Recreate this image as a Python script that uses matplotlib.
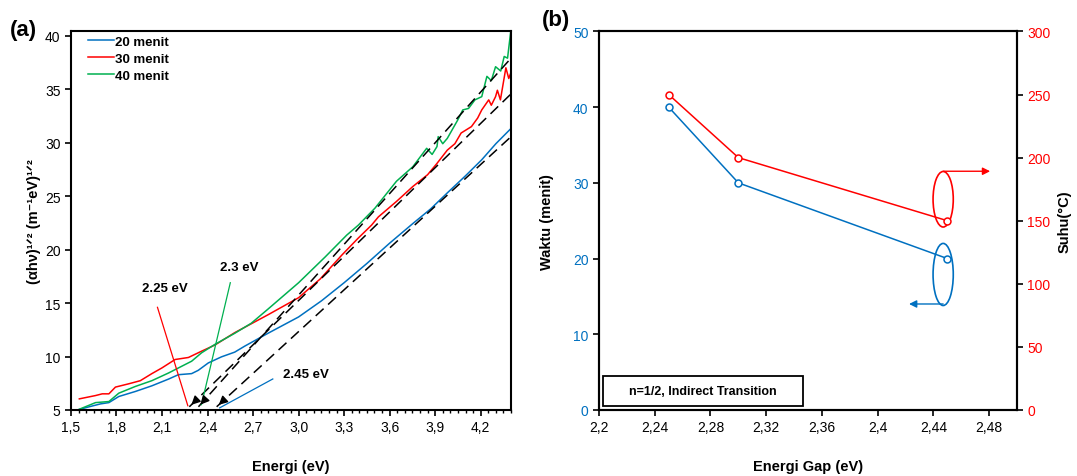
import numpy as np
import matplotlib.pyplot as plt
from matplotlib.patches import Ellipse, Rectangle

plt.rcParams['font.family'] = ['Liberation Sans', 'DejaVu Sans']
plt.rcParams['font.size'] = 10
plt.rcParams['xtick.direction'] = 'out'
plt.rcParams['ytick.direction'] = 'out'

BLUE = '#0070C0'
RED = '#FF0000'
GREEN = '#00B050'

# ---- panel (a): Tauc plot ----
x20 = [1.555, 1.62, 1.695, 1.75, 1.815, 1.924, 2.033, 2.143, 2.208, 2.295, 2.339, 2.405,
       2.492, 2.579, 2.645, 2.798, 3.0, 3.15, 3.3, 3.45, 3.6, 3.75, 3.87, 3.98, 4.1, 4.207,
       4.3, 4.398]
y20 = [5.05, 5.3, 5.57, 5.69, 6.26, 6.73, 7.26, 7.89, 8.30, 8.40, 8.71, 9.40,
       9.97, 10.41, 10.97, 12.17, 13.7, 15.2, 16.9, 18.7, 20.6, 22.4, 23.8, 25.3, 26.9, 28.4,
       29.9, 31.3]

x30 = [1.555, 1.662, 1.706, 1.75, 1.793, 1.881, 1.957, 2.033, 2.099, 2.186, 2.274, 2.361,
       2.448, 2.579, 2.798, 3.0, 3.143, 3.284, 3.39, 3.481, 3.526, 3.645, 3.753, 3.85, 3.912,
       3.98, 4.03, 4.071, 4.139, 4.18, 4.207, 4.253, 4.27, 4.298, 4.31, 4.33, 4.366, 4.385,
       4.398]
y30 = [6.04, 6.35, 6.51, 6.51, 7.14, 7.45, 7.74, 8.40, 8.93, 9.72, 9.91, 10.50,
       11.07, 12.23, 13.90, 15.5, 17.26, 19.47, 21.03, 22.29, 23.06, 24.5, 25.9, 27.0, 28.06,
       29.3, 29.9, 30.9, 31.5, 32.3, 33.06, 34.0, 33.5, 34.3, 34.9, 34.0, 37.0, 36.0,
       36.5]

x40 = [1.555, 1.662, 1.75, 1.815, 1.924, 2.033, 2.143, 2.230, 2.295, 2.361, 2.448, 2.579,
       2.688, 2.798, 3.0, 3.175, 3.317, 3.394, 3.503, 3.645, 3.753, 3.844, 3.88, 3.912, 3.92,
       3.95, 3.98, 4.048, 4.082, 4.12, 4.162, 4.207, 4.241, 4.27, 4.298, 4.332, 4.355, 4.377,
       4.398]
y40 = [5.07, 5.69, 5.79, 6.57, 7.20, 7.74, 8.46, 9.09, 9.56, 10.35, 11.13, 12.17,
       13.11, 14.43, 16.9, 19.31, 21.35, 22.29, 23.87, 26.39, 27.75, 29.47, 28.9, 29.63, 30.56,
       29.9, 30.4, 32.1, 33.06, 33.2, 34.0, 34.3, 36.2, 35.8, 37.1, 36.7, 38.06, 37.9,
       40.4]

# tangent lines: (x at foot, y at foot, x at end, y at end)
fit_30 = (2.28, 5.3, 4.40, 34.56)
fit_40 = (2.34, 5.3, 4.40, 37.9)
fit_20 = (2.46, 5.3, 4.40, 30.56)

# ---- panel (b) ----
gap = [2.25, 2.30, 2.45]
waktu = [40, 30, 20]
suhu = [250, 200, 150]

fig = plt.figure(figsize=(10.77, 4.77), dpi=100)

# ================= (a) =================
ax = fig.add_axes([0.0659, 0.1384, 0.4086, 0.7936])
ax.plot(x20, y20, c=BLUE, lw=1.1, label='20 menit')
ax.plot(x30, y30, c=RED, lw=1.1, label='30 menit')
ax.plot(x40, y40, c=GREEN, lw=1.1, label='40 menit')

for fx0, fy0, fx1, fy1 in [fit_30, fit_40, fit_20]:
    ax.plot([fx0, fx1], [fy0, fy1], c='black', lw=1.1, ls=(0, (7, 4)))
    ax.annotate('', xy=(fx0, fy0), xytext=(fx0 + 0.05, fy0 + 0.05 * (fy1 - fy0) / (fx1 - fx0)),
                arrowprops=dict(arrowstyle='-|>', color='black', lw=1, mutation_scale=13))

# pointer lines and labels
ax.plot([2.07, 2.27], [14.6, 5.4], c=RED, lw=0.9)
ax.plot([2.55, 2.36], [16.9, 5.5], c=GREEN, lw=0.9)
ax.plot([2.83, 2.48], [7.9, 5.2], c=BLUE, lw=0.9)
ax.text(2.12, 16.4, '2.25 eV', ha='center', va='center', fontweight='bold', fontsize=9.5)
ax.text(2.61, 18.4, '2.3 eV', ha='center', va='center', fontweight='bold', fontsize=9.5)
ax.text(3.05, 8.4, '2.45 eV', ha='center', va='center', fontweight='bold', fontsize=9.5)

ax.set_xlim(1.5, 4.4)
ax.set_ylim(5, 40.4)
ax.set_xticks(np.arange(1.5, 4.3, 0.3))
ax.set_xticklabels(['1,5', '1,8', '2,1', '2,4', '2,7', '3,0', '3,3', '3,6', '3,9', '4,2'])
ax.set_xticks(np.arange(1.5, 4.4, 0.05), minor=True)
ax.set_yticks(np.arange(5, 41, 5))
ax.tick_params(which='major', length=4, width=1.2)
ax.tick_params(axis='x', which='minor', length=2.5, width=1)
for s in ax.spines.values():
    s.set_linewidth(1.5)
ax.set_xlabel('Energi (eV)', fontweight='bold', fontsize=10.5, labelpad=18)
ax.set_ylabel('(αhν)¹ᐟ² (m⁻¹eV)¹ᐟ²', fontweight='bold', fontsize=10.5, labelpad=3)
ax.legend(loc='upper left', bbox_to_anchor=(0.02, 1.01), frameon=False, handlelength=2.0,
          handletextpad=0.1, labelspacing=0.35, borderaxespad=0.2,
          prop={'weight': 'bold', 'size': 9.5})
fig.text(0.009, 0.925, '(a)', fontweight='bold', fontsize=16)

# ================= (b) =================
bx = fig.add_axes([0.5562, 0.1384, 0.3881, 0.7936])
bx.plot(gap, waktu, c=BLUE, lw=1.1, marker='o', ms=5, mfc='white', mew=1.1)
bx.add_patch(Ellipse((2.447, 17.9), 0.0145, 8.2, fill=False, ec=BLUE, lw=1.2))
bx.annotate('', xy=(2.4225, 14.0), xytext=(2.447, 14.0),
            arrowprops=dict(arrowstyle='-|>', color=BLUE, lw=1, mutation_scale=11,
                            shrinkA=0, shrinkB=0))
bx.add_patch(Rectangle((2.2029, 0.55), 0.1433, 3.95, fill=False, ec='black', lw=1.3))
bx.text(2.2745, 2.5, 'n=1/2, Indirect Transition', ha='center', va='center',
        fontweight='bold', fontsize=9)
bx.set_xlim(2.2, 2.5)
bx.set_ylim(0, 50)
bx.set_xticks(np.arange(2.2, 2.49, 0.04))
bx.set_xticklabels(['2,2', '2,24', '2,28', '2,32', '2,36', '2,4', '2,44', '2,48'])
bx.set_yticks(np.arange(0, 51, 10))
bx.tick_params(axis='y', colors='black', labelcolor=BLUE, length=4, width=1.2)
bx.tick_params(axis='x', length=4, width=1.2)
bx.set_xlabel('Energi Gap (eV)', fontweight='bold', fontsize=10.5, labelpad=18)
bx.set_ylabel('Waktu (menit)', fontweight='bold', fontsize=10.5, labelpad=14)

cx = bx.twinx()
cx.plot(gap, suhu, c=RED, lw=1.1, marker='o', ms=5, mfc='white', mew=1.1)
cx.add_patch(Ellipse((2.447, 167), 0.0145, 44, fill=False, ec=RED, lw=1.2))
cx.annotate('', xy=(2.4807, 189.2), xytext=(2.447, 189.2),
            arrowprops=dict(arrowstyle='-|>', color=RED, lw=1, mutation_scale=11,
                            shrinkA=0, shrinkB=0))
cx.set_ylim(0, 300)
cx.set_yticks(np.arange(0, 301, 50))
cx.tick_params(axis='y', colors='black', labelcolor=RED, length=4, width=1.2)
cx.set_ylabel('Suhu(°C)', fontweight='bold', fontsize=10.5, labelpad=5)
for a in (bx, cx):
    for s in a.spines.values():
        s.set_linewidth(1.5)
fig.text(0.5035, 0.945, '(b)', fontweight='bold', fontsize=16)

fig.savefig('out.png', dpi=100)
